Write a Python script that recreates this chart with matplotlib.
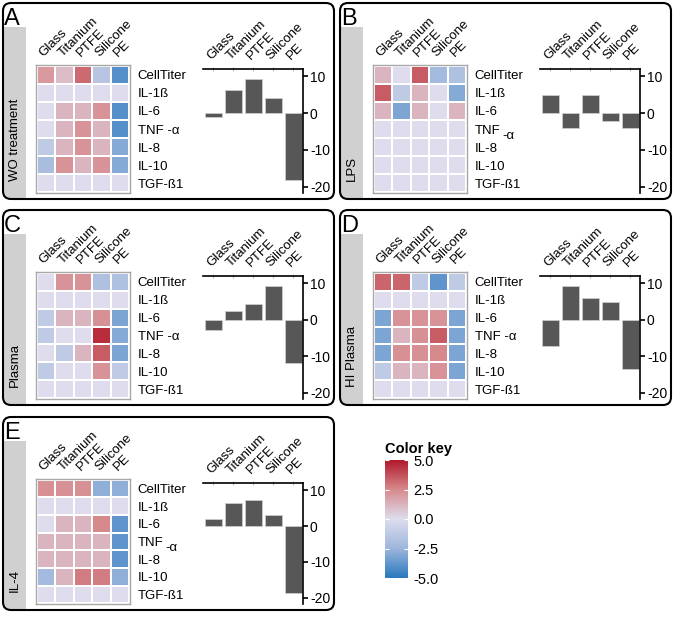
import matplotlib
matplotlib.use('Agg')
import matplotlib.pyplot as plt
import numpy as np
from matplotlib.colors import LinearSegmentedColormap, Normalize
from matplotlib.patches import FancyBboxPatch, Rectangle
from matplotlib.transforms import Affine2D, blended_transform_factory, ScaledTranslation
import matplotlib.cm as cm

plt.rcParams['font.family'] = ['Liberation Sans', 'DejaVu Sans']
plt.rcParams['axes.unicode_minus'] = False

materials = ['Glass', 'Titanium', 'PTFE', 'Silicone', 'PE']
markers = ['CellTiter', 'IL-1ß', 'IL-6', 'TNF -α', 'IL-8', 'IL-10', 'TGF-ß1']
letters = ['A', 'B', 'C', 'D', 'E']
conditions = ['WO treatment', 'LPS', 'Plasma', 'HI Plasma', 'IL-4']

heat_wo = [[2.0, 1.0, 3.2, -1.5, -4.0],
           [0, 0, 0, 0, 0],
           [0, 1.2, 1.2, 2.2, -4.0],
           [0, 1.2, 2.2, 1.2, -4.0],
           [-1.2, 1.2, 2.2, 1.2, -3.0],
           [-2.0, 2.2, 1.2, 2.2, -3.0],
           [0, 0, 0, 0, 0]]
heat_lps = [[1.2, 0, 3.5, -2.2, -1.8],
            [3.5, -1.2, 1.2, 0, -3.0],
            [1.2, -3.2, 1.2, 0, 1.2],
            [0, 0, 0, 0, 0],
            [0, 0, 0, 0, 0],
            [0, 0, 0, 0, 0],
            [0, 0, 0, 0, 0]]
heat_plasma = [[0, 2.2, 2.2, -1.8, -1.8],
               [0, 0, 0, 0, 0],
               [-1.2, 1.2, 1.2, 2.3, -3.2],
               [-1.2, 0, 0, 4.5, -3.0],
               [0, -1.2, 1.2, 3.5, -3.2],
               [-1.2, 0, 0, 2.2, -1.2],
               [0, 0, 0, 0, 0]]
heat_hi = [[3.3, 3.3, -1.2, -3.8, -1.2],
           [0, 0, 0, 0, 0],
           [-3.2, 2.2, 2.2, 2.2, -3.2],
           [-3.2, 1.2, 2.3, 3.5, -3.2],
           [-3.2, 2.3, 2.3, 2.5, -3.2],
           [-1.2, 1.2, 1.2, 2.2, -3.2],
           [0, 0, 0, 0, 0]]
heat_il4 = [[2.3, 2.3, 2.3, -2.8, -2.8],
            [0, 0, 0, 0, 0],
            [0, 1.2, 1.2, 2.5, -3.8],
            [1.2, 1.2, 1.2, 1.2, -3.8],
            [1.2, 1.2, 1.2, 1.2, -3.8],
            [-2.2, 1.2, 2.8, 2.8, -2.8],
            [0, 0, 0, 0, 0]]

bars_wo = [-1.0, 6.4, 9.2, 4.1, -18.3]
bars_lps = [5.0, -3.9, 5.0, -2.0, -3.9]
bars_plasma = [-2.7, 2.3, 4.3, 9.3, -11.8]
bars_hi = [-7.3, 9.2, 6.1, 5.0, -13.4]
bars_il4 = [2.1, 6.3, 7.3, 3.1, -18.5]

key_ticks = [5.0, 2.5, 0.0, -2.5, -5.0]

heats = [heat_wo, heat_lps, heat_plasma, heat_hi, heat_il4]
barsets = [bars_wo, bars_lps, bars_plasma, bars_hi, bars_il4]
lowered_alpha = [False, True, False, False, True]

W, H = 675, 619
fig = plt.figure(figsize=(W / 100, H / 100), dpi=100)
px = Affine2D().scale(1, -1).translate(0, H).scale(1 / W, 1 / H) + fig.transFigure


def add_ax(x0, y0, x1, y1):
    return fig.add_axes([x0 / W, 1 - y1 / H, (x1 - x0) / W, (y1 - y0) / H])


cmap = LinearSegmentedColormap.from_list(
    'key', [(0.0, '#2878BE'), (0.25, '#9DB6DC'), (0.5, '#DEDDEE'),
            (0.75, '#D68A8C'), (1.0, '#B0182A')])
norm = Normalize(-5, 5)

origins = [(3, 3), (340, 3), (3, 210), (340, 210), (3, 417)]
heights = [196, 196, 195, 195, 193]
shift = ScaledTranslation(3 / 100, 0, fig.dpi_scale_trans)

for i in range(5):
    ox, oy = origins[i]
    pw, ph = 331, heights[i]
    frame = FancyBboxPatch((ox, oy), pw, ph, boxstyle='round,pad=0,rounding_size=8',
                           transform=px, facecolor='none', edgecolor='black',
                           linewidth=1.5, zorder=3)
    fig.add_artist(frame)
    strip = Rectangle((ox, oy + 24), 23, ph - 24, transform=px, facecolor='#D0D0D0',
                      edgecolor='none', zorder=2)
    fig.add_artist(strip)
    strip.set_clip_path(frame)
    fig.text(ox + 1, oy + 22, letters[i], transform=px, fontsize=17,
             ha='left', va='baseline')
    fig.text(ox + 12, oy + ph - 18, conditions[i], transform=px, rotation=90,
             ha='center', va='bottom', fontsize=9.5)

    # heatmap
    hax = add_ax(ox + 33, oy + 62, ox + 127, oy + 62 + (ph - 68))
    hax.set_facecolor('none')
    hax.pcolormesh(np.array(heats[i]), cmap=cmap, norm=norm,
                   edgecolors='white', linewidth=0.3)
    hax.set_xlim(-0.04, 5.04)
    hax.set_ylim(7.04, -0.04)
    for s in hax.spines.values():
        s.set_color('#A8A8A8')
        s.set_linewidth(1.0)
    hax.xaxis.tick_top()
    hax.set_xticks(np.arange(5) + 0.5)
    hax.set_xticklabels(materials, rotation=45, ha='left', va='bottom',
                        rotation_mode='anchor', fontsize=9.5)
    for lab in hax.get_xticklabels():
        lab.set_transform(lab.get_transform() + shift)
    hax.yaxis.tick_right()
    hax.set_yticks(np.arange(7) + 0.5)
    labels = list(markers)
    if lowered_alpha[i]:
        labels[3] = markers[3].split(' ')[0]
    hax.set_yticklabels(labels, fontsize=9.5)
    hax.tick_params(axis='x', length=0, pad=4.0)
    hax.tick_params(axis='y', length=0, pad=5.5)
    if lowered_alpha[i]:
        tr = blended_transform_factory(hax.transAxes, hax.transData)
        hax.annotate(markers[3].split(' ')[1], xy=(1, 3.5), xycoords=tr,
                     xytext=(25.5, -5), textcoords='offset points',
                     fontsize=9.5, ha='left', va='center')

    # bars
    bax = add_ax(ox + 200, oy + 66, ox + 300, oy + 66 + (ph - 72))
    bax.set_facecolor('none')
    bax.bar(np.arange(5), barsets[i], width=0.85, color='#575757',
            edgecolor='#d0d0d0', linewidth=0.5)
    bax.set_xlim(-0.5, 4.5)
    bax.set_ylim(-21.7, 12)
    bax.spines['left'].set_visible(False)
    bax.spines['bottom'].set_visible(False)
    bax.spines['top'].set_linewidth(1.2)
    bax.spines['right'].set_linewidth(1.2)
    bax.xaxis.tick_top()
    bax.set_xticks(np.arange(5))
    bax.set_xticklabels(materials, rotation=45, ha='left', va='bottom',
                        rotation_mode='anchor', fontsize=9.5)
    bax.tick_params(axis='x', color='#BBBBBB', length=3, direction='inout', pad=3.5)
    bax.yaxis.tick_right()
    bax.set_yticks([10, 0, -10, -20])
    bax.tick_params(axis='y', length=3.5, width=1.2, pad=1.5, labelsize=10)

# color key
fig.text(385, 449, 'Color key', transform=px, fontweight='bold', fontsize=10.5,
         ha='left', va='center')
cax = add_ax(385, 460, 408, 578)
cb = fig.colorbar(cm.ScalarMappable(norm=norm, cmap=cmap), cax=cax)
cb.set_ticks(key_ticks)
cb.set_ticklabels(['%.1f' % v for v in key_ticks])
cb.outline.set_visible(False)
cax.tick_params(direction='in', color='white', labelcolor='black', length=3,
                left=True, right=True, labelsize=10.5, pad=4)

fig.savefig('out.png', dpi=100)
